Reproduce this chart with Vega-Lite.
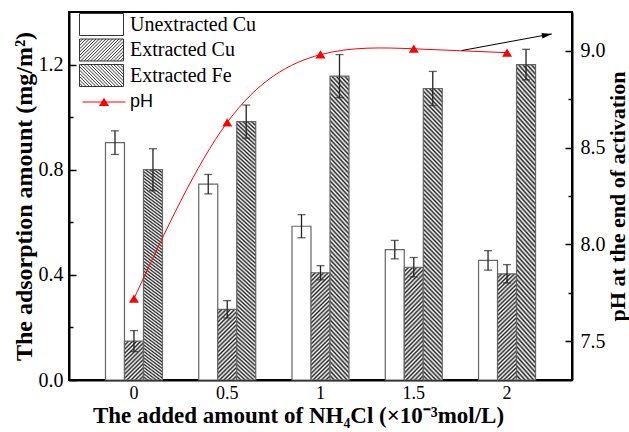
{
"$schema":"https://vega.github.io/schema/vega-lite/v6.json",
"width":503,"height":368,
"autosize":"none",
"padding":{"left":69,"top":12,"right":57,"bottom":52},
"background":"white",
"config":{
 "view":{"stroke":"black","strokeWidth":2},
 "axis":{"domainColor":"black","domainWidth":2,"tickColor":"black","labelColor":"black","titleColor":"black","labelFont":"Liberation Serif","titleFont":"Liberation Serif","grid":false},
 "legend":{"labelColor":"black"}
},
"layer":[
 {
  "data":{"values":[
   {"nh4":"0","series":"Unextracted Cu","v":0.903,"lo":0.858,"hi":0.948},
   {"nh4":"0","series":"Extracted Cu","v":0.148,"lo":0.108,"hi":0.188},
   {"nh4":"0","series":"Extracted Fe","v":0.800,"lo":0.720,"hi":0.880},
   {"nh4":"0.5","series":"Unextracted Cu","v":0.745,"lo":0.708,"hi":0.782},
   {"nh4":"0.5","series":"Extracted Cu","v":0.269,"lo":0.236,"hi":0.302},
   {"nh4":"0.5","series":"Extracted Fe","v":0.983,"lo":0.920,"hi":1.046},
   {"nh4":"1","series":"Unextracted Cu","v":0.585,"lo":0.541,"hi":0.629},
   {"nh4":"1","series":"Extracted Cu","v":0.408,"lo":0.381,"hi":0.435},
   {"nh4":"1","series":"Extracted Fe","v":1.156,"lo":1.074,"hi":1.238},
   {"nh4":"1.5","series":"Unextracted Cu","v":0.496,"lo":0.461,"hi":0.531},
   {"nh4":"1.5","series":"Extracted Cu","v":0.429,"lo":0.392,"hi":0.466},
   {"nh4":"1.5","series":"Extracted Fe","v":1.109,"lo":1.044,"hi":1.174},
   {"nh4":"2","series":"Unextracted Cu","v":0.455,"lo":0.418,"hi":0.492},
   {"nh4":"2","series":"Extracted Cu","v":0.404,"lo":0.369,"hi":0.439},
   {"nh4":"2","series":"Extracted Fe","v":1.200,"lo":1.142,"hi":1.258}
  ]},
  "encoding":{
   "x":{"field":"nh4","type":"nominal","sort":null,"scale":{"paddingInner":0.389,"paddingOuter":0.391},"axis":{"title":"The added amount of NH₄Cl (×10⁻³mol/L)","labelAngle":0,"ticks":false,"labelFontSize":18,"labelPadding":4,"titleFontSize":23,"titleFontWeight":"bold","titlePadding":2,"titleX":229}},
   "xOffset":{"field":"series","type":"nominal","sort":["Unextracted Cu","Extracted Cu","Extracted Fe"]}
  },
  "layer":[
   {"mark":{"type":"bar","stroke":"#666","strokeWidth":1.2},
    "encoding":{
     "y":{"field":"v","type":"quantitative","title":"The adsorption amount (mg/m²)","scale":{"domain":[0,1.4],"nice":false},
      "axis":{"title":"The adsorption amount (mg/m²)","values":[0,0.2,0.4,0.6,0.8,1,1.2],"labelExpr":"round(datum.value*10)%4===0 ? format(datum.value,'.1f') : ''","tickSize":{"condition":{"test":"round(datum.value*10)%4===0","value":-7},"value":-4},"tickWidth":1.5,"labelPadding":13,"labelFontSize":20,"titleFontSize":24,"titleFontWeight":"bold","titlePadding":2}},
     "fill":{"field":"series","type":"nominal",
      "scale":{"domain":["Unextracted Cu","Extracted Cu","Extracted Fe"],"range":["#ffffff","#888888","#888888"]},
      "legend":null,
      "condition":[
       {"test":"datum.series==='Extracted Cu' && datum.nh4==='0'","value":{"gradient":"linear","x1":0,"y1":0,"x2":0.5855,"y2":1.2019,"stops":[{"offset":0,"color":"#222"},{"offset":0.0357,"color":"#fff"},{"offset":0.0714,"color":"#222"},{"offset":0.1071,"color":"#fff"},{"offset":0.1429,"color":"#222"},{"offset":0.1786,"color":"#fff"},{"offset":0.2143,"color":"#222"},{"offset":0.25,"color":"#fff"},{"offset":0.2857,"color":"#222"},{"offset":0.3214,"color":"#fff"},{"offset":0.3571,"color":"#222"},{"offset":0.3929,"color":"#fff"},{"offset":0.4286,"color":"#222"},{"offset":0.4643,"color":"#fff"},{"offset":0.5,"color":"#222"},{"offset":0.5357,"color":"#fff"},{"offset":0.5714,"color":"#222"},{"offset":0.6071,"color":"#fff"},{"offset":0.6429,"color":"#222"},{"offset":0.6786,"color":"#fff"},{"offset":0.7143,"color":"#222"},{"offset":0.75,"color":"#fff"},{"offset":0.7857,"color":"#222"},{"offset":0.8214,"color":"#fff"},{"offset":0.8571,"color":"#222"},{"offset":0.8929,"color":"#fff"},{"offset":0.9286,"color":"#222"},{"offset":0.9643,"color":"#fff"},{"offset":1,"color":"#222"}]}},
       {"test":"datum.series==='Extracted Cu' && datum.nh4==='0.5'","value":{"gradient":"linear","x1":0,"y1":0,"x2":0.3166,"y2":1.183,"stops":[{"offset":0,"color":"#222"},{"offset":0.0238,"color":"#fff"},{"offset":0.0476,"color":"#222"},{"offset":0.0714,"color":"#fff"},{"offset":0.0952,"color":"#222"},{"offset":0.119,"color":"#fff"},{"offset":0.1429,"color":"#222"},{"offset":0.1667,"color":"#fff"},{"offset":0.1905,"color":"#222"},{"offset":0.2143,"color":"#fff"},{"offset":0.2381,"color":"#222"},{"offset":0.2619,"color":"#fff"},{"offset":0.2857,"color":"#222"},{"offset":0.3095,"color":"#fff"},{"offset":0.3333,"color":"#222"},{"offset":0.3571,"color":"#fff"},{"offset":0.381,"color":"#222"},{"offset":0.4048,"color":"#fff"},{"offset":0.4286,"color":"#222"},{"offset":0.4524,"color":"#fff"},{"offset":0.4762,"color":"#222"},{"offset":0.5,"color":"#fff"},{"offset":0.5238,"color":"#222"},{"offset":0.5476,"color":"#fff"},{"offset":0.5714,"color":"#222"},{"offset":0.5952,"color":"#fff"},{"offset":0.619,"color":"#222"},{"offset":0.6429,"color":"#fff"},{"offset":0.6667,"color":"#222"},{"offset":0.6905,"color":"#fff"},{"offset":0.7143,"color":"#222"},{"offset":0.7381,"color":"#fff"},{"offset":0.7619,"color":"#222"},{"offset":0.7857,"color":"#fff"},{"offset":0.8095,"color":"#222"},{"offset":0.8333,"color":"#fff"},{"offset":0.8571,"color":"#222"},{"offset":0.881,"color":"#fff"},{"offset":0.9048,"color":"#222"},{"offset":0.9286,"color":"#fff"},{"offset":0.9524,"color":"#222"},{"offset":0.9762,"color":"#fff"},{"offset":1,"color":"#222"}]}},
       {"test":"datum.series==='Extracted Cu'","value":{"gradient":"linear","x1":0,"y1":0,"x2":0.1987,"y2":1.1397,"stops":[{"offset":0,"color":"#222"},{"offset":0.0167,"color":"#fff"},{"offset":0.0333,"color":"#222"},{"offset":0.05,"color":"#fff"},{"offset":0.0667,"color":"#222"},{"offset":0.0833,"color":"#fff"},{"offset":0.1,"color":"#222"},{"offset":0.1167,"color":"#fff"},{"offset":0.1333,"color":"#222"},{"offset":0.15,"color":"#fff"},{"offset":0.1667,"color":"#222"},{"offset":0.1833,"color":"#fff"},{"offset":0.2,"color":"#222"},{"offset":0.2167,"color":"#fff"},{"offset":0.2333,"color":"#222"},{"offset":0.25,"color":"#fff"},{"offset":0.2667,"color":"#222"},{"offset":0.2833,"color":"#fff"},{"offset":0.3,"color":"#222"},{"offset":0.3167,"color":"#fff"},{"offset":0.3333,"color":"#222"},{"offset":0.35,"color":"#fff"},{"offset":0.3667,"color":"#222"},{"offset":0.3833,"color":"#fff"},{"offset":0.4,"color":"#222"},{"offset":0.4167,"color":"#fff"},{"offset":0.4333,"color":"#222"},{"offset":0.45,"color":"#fff"},{"offset":0.4667,"color":"#222"},{"offset":0.4833,"color":"#fff"},{"offset":0.5,"color":"#222"},{"offset":0.5167,"color":"#fff"},{"offset":0.5333,"color":"#222"},{"offset":0.55,"color":"#fff"},{"offset":0.5667,"color":"#222"},{"offset":0.5833,"color":"#fff"},{"offset":0.6,"color":"#222"},{"offset":0.6167,"color":"#fff"},{"offset":0.6333,"color":"#222"},{"offset":0.65,"color":"#fff"},{"offset":0.6667,"color":"#222"},{"offset":0.6833,"color":"#fff"},{"offset":0.7,"color":"#222"},{"offset":0.7167,"color":"#fff"},{"offset":0.7333,"color":"#222"},{"offset":0.75,"color":"#fff"},{"offset":0.7667,"color":"#222"},{"offset":0.7833,"color":"#fff"},{"offset":0.8,"color":"#222"},{"offset":0.8167,"color":"#fff"},{"offset":0.8333,"color":"#222"},{"offset":0.85,"color":"#fff"},{"offset":0.8667,"color":"#222"},{"offset":0.8833,"color":"#fff"},{"offset":0.9,"color":"#222"},{"offset":0.9167,"color":"#fff"},{"offset":0.9333,"color":"#222"},{"offset":0.95,"color":"#fff"},{"offset":0.9667,"color":"#222"},{"offset":0.9833,"color":"#fff"},{"offset":1,"color":"#222"}]}},
       {"test":"datum.series==='Extracted Fe'","value":{"gradient":"linear","x1":1,"y1":0,"x2":0.928,"y2":1.063,"stops":[{"offset":0,"color":"#222"},{"offset":0.0071,"color":"#fff"},{"offset":0.0143,"color":"#222"},{"offset":0.0214,"color":"#fff"},{"offset":0.0286,"color":"#222"},{"offset":0.0357,"color":"#fff"},{"offset":0.0429,"color":"#222"},{"offset":0.05,"color":"#fff"},{"offset":0.0571,"color":"#222"},{"offset":0.0643,"color":"#fff"},{"offset":0.0714,"color":"#222"},{"offset":0.0786,"color":"#fff"},{"offset":0.0857,"color":"#222"},{"offset":0.0929,"color":"#fff"},{"offset":0.1,"color":"#222"},{"offset":0.1071,"color":"#fff"},{"offset":0.1143,"color":"#222"},{"offset":0.1214,"color":"#fff"},{"offset":0.1286,"color":"#222"},{"offset":0.1357,"color":"#fff"},{"offset":0.1429,"color":"#222"},{"offset":0.15,"color":"#fff"},{"offset":0.1571,"color":"#222"},{"offset":0.1643,"color":"#fff"},{"offset":0.1714,"color":"#222"},{"offset":0.1786,"color":"#fff"},{"offset":0.1857,"color":"#222"},{"offset":0.1929,"color":"#fff"},{"offset":0.2,"color":"#222"},{"offset":0.2071,"color":"#fff"},{"offset":0.2143,"color":"#222"},{"offset":0.2214,"color":"#fff"},{"offset":0.2286,"color":"#222"},{"offset":0.2357,"color":"#fff"},{"offset":0.2429,"color":"#222"},{"offset":0.25,"color":"#fff"},{"offset":0.2571,"color":"#222"},{"offset":0.2643,"color":"#fff"},{"offset":0.2714,"color":"#222"},{"offset":0.2786,"color":"#fff"},{"offset":0.2857,"color":"#222"},{"offset":0.2929,"color":"#fff"},{"offset":0.3,"color":"#222"},{"offset":0.3071,"color":"#fff"},{"offset":0.3143,"color":"#222"},{"offset":0.3214,"color":"#fff"},{"offset":0.3286,"color":"#222"},{"offset":0.3357,"color":"#fff"},{"offset":0.3429,"color":"#222"},{"offset":0.35,"color":"#fff"},{"offset":0.3571,"color":"#222"},{"offset":0.3643,"color":"#fff"},{"offset":0.3714,"color":"#222"},{"offset":0.3786,"color":"#fff"},{"offset":0.3857,"color":"#222"},{"offset":0.3929,"color":"#fff"},{"offset":0.4,"color":"#222"},{"offset":0.4071,"color":"#fff"},{"offset":0.4143,"color":"#222"},{"offset":0.4214,"color":"#fff"},{"offset":0.4286,"color":"#222"},{"offset":0.4357,"color":"#fff"},{"offset":0.4429,"color":"#222"},{"offset":0.45,"color":"#fff"},{"offset":0.4571,"color":"#222"},{"offset":0.4643,"color":"#fff"},{"offset":0.4714,"color":"#222"},{"offset":0.4786,"color":"#fff"},{"offset":0.4857,"color":"#222"},{"offset":0.4929,"color":"#fff"},{"offset":0.5,"color":"#222"},{"offset":0.5071,"color":"#fff"},{"offset":0.5143,"color":"#222"},{"offset":0.5214,"color":"#fff"},{"offset":0.5286,"color":"#222"},{"offset":0.5357,"color":"#fff"},{"offset":0.5429,"color":"#222"},{"offset":0.55,"color":"#fff"},{"offset":0.5571,"color":"#222"},{"offset":0.5643,"color":"#fff"},{"offset":0.5714,"color":"#222"},{"offset":0.5786,"color":"#fff"},{"offset":0.5857,"color":"#222"},{"offset":0.5929,"color":"#fff"},{"offset":0.6,"color":"#222"},{"offset":0.6071,"color":"#fff"},{"offset":0.6143,"color":"#222"},{"offset":0.6214,"color":"#fff"},{"offset":0.6286,"color":"#222"},{"offset":0.6357,"color":"#fff"},{"offset":0.6429,"color":"#222"},{"offset":0.65,"color":"#fff"},{"offset":0.6571,"color":"#222"},{"offset":0.6643,"color":"#fff"},{"offset":0.6714,"color":"#222"},{"offset":0.6786,"color":"#fff"},{"offset":0.6857,"color":"#222"},{"offset":0.6929,"color":"#fff"},{"offset":0.7,"color":"#222"},{"offset":0.7071,"color":"#fff"},{"offset":0.7143,"color":"#222"},{"offset":0.7214,"color":"#fff"},{"offset":0.7286,"color":"#222"},{"offset":0.7357,"color":"#fff"},{"offset":0.7429,"color":"#222"},{"offset":0.75,"color":"#fff"},{"offset":0.7571,"color":"#222"},{"offset":0.7643,"color":"#fff"},{"offset":0.7714,"color":"#222"},{"offset":0.7786,"color":"#fff"},{"offset":0.7857,"color":"#222"},{"offset":0.7929,"color":"#fff"},{"offset":0.8,"color":"#222"},{"offset":0.8071,"color":"#fff"},{"offset":0.8143,"color":"#222"},{"offset":0.8214,"color":"#fff"},{"offset":0.8286,"color":"#222"},{"offset":0.8357,"color":"#fff"},{"offset":0.8429,"color":"#222"},{"offset":0.85,"color":"#fff"},{"offset":0.8571,"color":"#222"},{"offset":0.8643,"color":"#fff"},{"offset":0.8714,"color":"#222"},{"offset":0.8786,"color":"#fff"},{"offset":0.8857,"color":"#222"},{"offset":0.8929,"color":"#fff"},{"offset":0.9,"color":"#222"},{"offset":0.9071,"color":"#fff"},{"offset":0.9143,"color":"#222"},{"offset":0.9214,"color":"#fff"},{"offset":0.9286,"color":"#222"},{"offset":0.9357,"color":"#fff"},{"offset":0.9429,"color":"#222"},{"offset":0.95,"color":"#fff"},{"offset":0.9571,"color":"#222"},{"offset":0.9643,"color":"#fff"},{"offset":0.9714,"color":"#222"},{"offset":0.9786,"color":"#fff"},{"offset":0.9857,"color":"#222"},{"offset":0.9929,"color":"#fff"},{"offset":1,"color":"#222"}]}}
      ]}
    }},
   {"mark":{"type":"point","filled":false,"color":"#333","strokeWidth":1,"opacity":0,"size":484},
    "encoding":{
     "y":{"field":"v","type":"quantitative","title":"The adsorption amount (mg/m²)"},
     "shape":{"field":"series","type":"nominal",
      "scale":{"domain":["Unextracted Cu","Extracted Cu","Extracted Fe"],"range":[
       "M-2,-1H2V1H-2Z",
       "M-2,-1H2V1H-2ZM-2,-0.7L-1.7,-1M-2,-0.4L-1.4,-1M-2,-0.1L-1.1,-1M-2,0.2L-0.8,-1M-2,0.5L-0.5,-1M-2,0.8L-0.2,-1M-1.9,1L0.1,-1M-1.6,1L0.4,-1M-1.3,1L0.7,-1M-1,1L1,-1M-0.7,1L1.3,-1M-0.4,1L1.6,-1M-0.1,1L1.9,-1M0.2,1L2,-0.8M0.5,1L2,-0.5M0.8,1L2,-0.2M1.1,1L2,0.1M1.4,1L2,0.4M1.7,1L2,0.7",
       "M-2,-1H2V1H-2ZM-2,0.7L-1.7,1M-2,0.4L-1.4,1M-2,0.1L-1.1,1M-2,-0.2L-0.8,1M-2,-0.5L-0.5,1M-2,-0.8L-0.2,1M-1.9,-1L0.1,1M-1.6,-1L0.4,1M-1.3,-1L0.7,1M-1,-1L1,1M-0.7,-1L1.3,1M-0.4,-1L1.6,1M-0.1,-1L1.9,1M0.2,-1L2,0.8M0.5,-1L2,0.5M0.8,-1L2,0.2M1.1,-1L2,-0.1M1.4,-1L2,-0.4M1.7,-1L2,-0.7"]},
      "legend":{"orient":"none","legendX":21,"legendY":1,"title":null,"symbolSize":484,"symbolOpacity":1,"symbolStrokeColor":"#333","symbolStrokeWidth":1,"symbolFillColor":"#ffffff","labelFont":"Liberation Serif","labelFontSize":20,"labelOffset":17,"rowPadding":-1.5,"padding":0}}
    }},
   {"mark":{"type":"rule","color":"#222","strokeWidth":1.3},"encoding":{"y":{"field":"lo","type":"quantitative","title":"The adsorption amount (mg/m²)"},"y2":{"field":"hi"}}},
   {"mark":{"type":"tick","color":"#222","thickness":1.3,"size":8,"orient":"horizontal"},"encoding":{"y":{"field":"lo","type":"quantitative","title":"The adsorption amount (mg/m²)"}}},
   {"mark":{"type":"tick","color":"#222","thickness":1.3,"size":8,"orient":"horizontal"},"encoding":{"y":{"field":"hi","type":"quantitative","title":"The adsorption amount (mg/m²)"}}}
  ]
 },
 {
  "data":{"values":[
   {"nh4":0,"pH":7.72},{"nh4":0.5,"pH":8.63},{"nh4":1,"pH":8.98},{"nh4":1.5,"pH":9.01},{"nh4":2,"pH":8.99}
  ]},
  "encoding":{
   "x":{"field":"nh4","type":"quantitative","title":"nh4","scale":{"domain":[-0.3482,2.3482],"nice":false,"zero":false},"axis":null},
   "y":{"field":"pH","type":"quantitative","title":"pH at the end of activation","scale":{"domain":[7.3,9.2],"nice":false,"zero":false},
    "axis":{"orient":"right","title":"pH at the end of activation","values":[7.5,7.75,8,8.25,8.5,8.75,9],"labelExpr":"round(datum.value*4)%2===0 ? format(datum.value,'.1f') : ''","tickSize":{"condition":{"test":"round(datum.value*4)%2===0","value":-7},"value":-4},"tickWidth":1.5,"labelPadding":15,"labelFontSize":20,"titleFontSize":22,"titleFontWeight":"bold","titleAngle":270,"titleBaseline":"top","titlePadding":2}}
  },
  "layer":[
   {"mark":{"type":"line","color":"#ff0000","strokeWidth":1,"interpolate":"natural"},"encoding":{}},
   {"mark":{"type":"point","shape":"M0,-0.85L1,0.8L-1,0.8Z","filled":true,"color":"#ff0000","size":100,"opacity":1,"strokeWidth":0}},
   {"mark":{"type":"point","filled":true,"color":"#ff0000","size":100,"opacity":0,"strokeWidth":0},
    "encoding":{"shape":{"datum":"pH","scale":{"range":["M-4.3,-0.1H4.3V0.12H-4.3ZM0,-0.85L1,0.8L-1,0.8Z"]},
     "legend":{"orient":"none","legendX":26,"legendY":81,"title":null,"symbolSize":100,"symbolOpacity":1,"labelFont":"Liberation Sans","labelFontSize":18,"labelOffset":17,"padding":0,"symbolFillColor":"#ff0000"}}}},
   {"data":{"values":[{"nh4":1.757,"pH":9.001,"nh4_end":2.24,"pH_end":9.087}]},
    "mark":{"type":"rule","color":"black","strokeWidth":1},
    "encoding":{"x2":{"field":"nh4_end"},"y2":{"field":"pH_end"}}},
   {"data":{"values":[{"nh4":1.757,"pH":9.001,"nh4_end":2.24,"pH_end":9.087}]},
    "mark":{"type":"point","shape":"M0,0L-2,-0.55L-2,0.55Z","filled":true,"color":"black","size":100,"angle":-10.5,"opacity":1,"strokeWidth":0},
    "encoding":{"x":{"field":"nh4_end","type":"quantitative","title":"nh4"},"y":{"field":"pH_end","type":"quantitative","title":"pH at the end of activation"}}}
  ]
 }
],
"resolve":{"scale":{"x":"independent","y":"independent","shape":"independent"},"axis":{"x":"independent","y":"independent"},"legend":{"shape":"independent"}}
}
